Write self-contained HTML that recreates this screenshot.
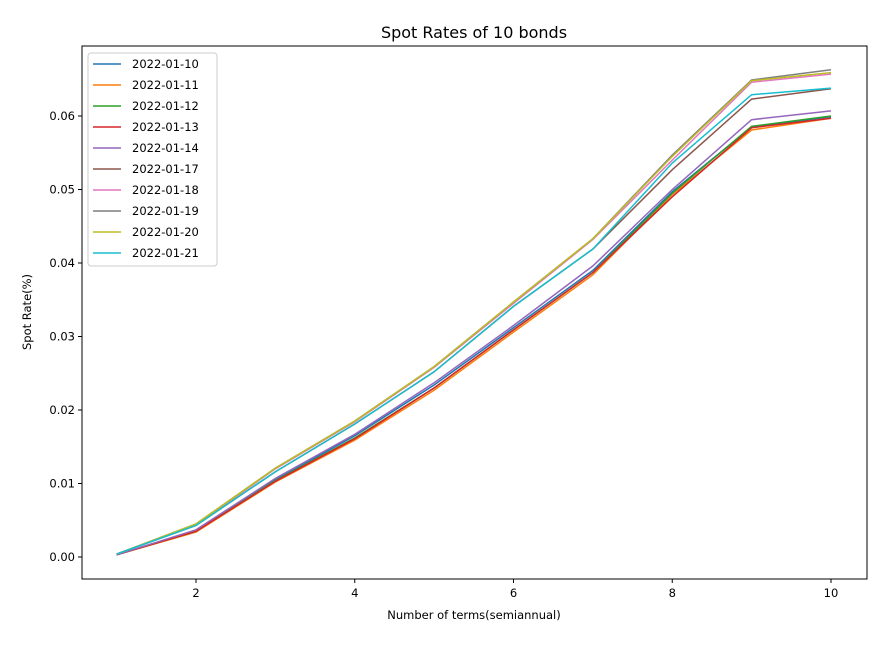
<!DOCTYPE html>
<html><head><meta charset="utf-8"><style>
body{margin:0;background:#fff;font-family:"DejaVu Sans","Liberation Sans",sans-serif}
</style></head><body>
<svg id="c" width="888" height="650" xmlns="http://www.w3.org/2000/svg" font-family="DejaVu Sans, Liberation Sans, sans-serif"></svg>
<script>
const terms=[1,2,3,4,5,6,7,8,9,10];
const labels=["2022-01-10","2022-01-11","2022-01-12","2022-01-13","2022-01-14","2022-01-17","2022-01-18","2022-01-19","2022-01-20","2022-01-21"];
const colors=["#1f77b4","#ff7f0e","#2ca02c","#d62728","#9467bd","#8c564b","#e377c2","#7f7f7f","#bcbd22","#17becf"];
const s0=[0.0003,0.0036,0.0105,0.0165,0.0234,0.0312,0.0390,0.0497,0.0585,0.0599];
const s1=[0.0003,0.0034,0.0102,0.0159,0.0227,0.0306,0.0384,0.0493,0.0581,0.0597];
const s2=[0.0003,0.0035,0.0104,0.0162,0.0230,0.0309,0.0387,0.0495,0.0586,0.0600];
const s3=[0.0003,0.0035,0.0103,0.0161,0.0230,0.0309,0.0387,0.0490,0.0584,0.0597];
const s4=[0.0003,0.0037,0.0107,0.0167,0.0237,0.0315,0.0396,0.0500,0.0595,0.0607];
const s5=[0.0004,0.0043,0.0116,0.0181,0.0252,0.0341,0.0419,0.0527,0.0623,0.0637];
const s6=[0.0004,0.0044,0.0120,0.0184,0.0258,0.0345,0.0432,0.0540,0.0646,0.0657];
const s7=[0.0004,0.0045,0.0121,0.0185,0.0259,0.0347,0.0433,0.0547,0.0649,0.0663];
const s8=[0.0004,0.0045,0.0121,0.0185,0.0259,0.0347,0.0433,0.0545,0.0648,0.0659];
const s9=[0.0004,0.0043,0.0116,0.0181,0.0252,0.0341,0.0419,0.0536,0.0629,0.0638];
const series=[s0,s1,s2,s3,s4,s5,s6,s7,s8,s9];
const xTicks=[2,4,6,8,10];
const yTicks=[0,0.01,0.02,0.03,0.04,0.05,0.06];
const L=82,R=867,T=46,B=579;
const X=v=>196+(v-2)*(831-196)/8;
const Y=v=>557-v*7350;
const svg=document.getElementById('c');
const NS="http://www.w3.org/2000/svg";
function mk(t,a,p){const e=document.createElementNS(NS,t);for(const k in a)e.setAttribute(k,a[k]);(p||svg).appendChild(e);return e;}
const title=mk('text',{x:474,y:38,'text-anchor':'middle','font-size':16,fill:'#000'});title.textContent='Spot Rates of 10 bonds';


series.forEach((s,i)=>{
 const d=s.map((v,j)=>(j?'L':'M')+X(terms[j]).toFixed(1)+' '+Y(v).toFixed(1)).join(' ');
 const p=mk('path',{d:d,fill:'none',stroke:colors[i],'stroke-width':1.5});
 
 
});
const frame=mk('rect',{x:L,y:T,width:R-L,height:B-T,fill:'none',stroke:'#000','stroke-width':1});


xTicks.forEach(v=>{
 mk('line',{x1:X(v),x2:X(v),y1:B,y2:B+4,stroke:'#000'});
 const t=mk('text',{x:X(v),y:B+18,'text-anchor':'middle','font-size':11.5});t.textContent=v;
 
 
});
yTicks.forEach(v=>{
 mk('line',{x1:L-4,x2:L,y1:Y(v),y2:Y(v),stroke:'#000'});
 const t=mk('text',{x:L-7,y:Y(v)+4,'text-anchor':'end','font-size':11.5});t.textContent=v.toFixed(2);
 
 
});
const xl=mk('text',{x:474,y:619,'text-anchor':'middle','font-size':11.5});xl.textContent='Number of terms(semiannual)';


const yl=mk('text',{x:31,y:312,'text-anchor':'middle','font-size':11.5,transform:'rotate(-90 31 312)'});yl.textContent='Spot Rate(%)';


const lg=mk('g',{});


mk('rect',{x:88,y:53,width:129,height:213,rx:3,fill:'#fff',stroke:'#ccc'},lg);
labels.forEach((l,i)=>{
 const y=64+i*21;
 const ln=mk('line',{x1:93,x2:121,y1:y,y2:y,stroke:colors[i],'stroke-width':1.5},lg);
 
 
 const t=mk('text',{x:132,y:y+4,'font-size':11.5},lg);t.textContent=l;
 
 
});
</script>
</body></html>
